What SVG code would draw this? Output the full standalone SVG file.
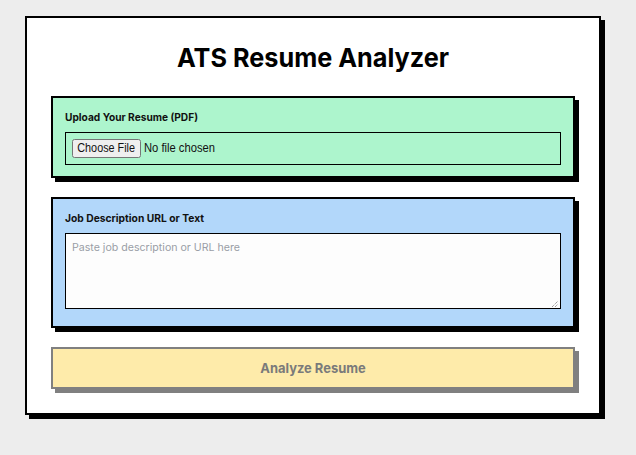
<svg xmlns="http://www.w3.org/2000/svg" width="636" height="455" viewBox="0 0 636 455">
<style>
.shadow{fill:#000}
.box{stroke:#000;stroke-width:2}
.lbl{font-family:Inter,"Liberation Sans",sans-serif;font-weight:700;font-size:10.5px;fill:#111}
.sys{font-family:"Liberation Sans",Arial,sans-serif;font-size:12px;fill:#111}
</style>
<rect x="0" y="0" width="636" height="455" fill="#ededed"/>
<g id="card">
<rect class="shadow" x="29" y="20" width="576" height="399"/>
<rect class="box" x="26" y="17" width="574" height="397" fill="#fff"/>
<text x="313" y="66.5" text-anchor="middle" font-family="Inter,'Liberation Sans',sans-serif" font-weight="700" font-size="26" fill="#000" textLength="272" lengthAdjust="spacingAndGlyphs">ATS Resume Analyzer</text>
</g>
<g id="upload">
<rect class="shadow" x="55" y="100" width="524" height="82"/>
<rect class="box" x="52" y="97" width="522" height="80" fill="#adf5cd"/>
<text class="lbl" x="65" y="121.3" textLength="133" lengthAdjust="spacingAndGlyphs">Upload Your Resume (PDF)</text>
<rect x="65.5" y="132.5" width="495" height="32" fill="none" stroke="#000" stroke-width="1"/>
<rect x="72.5" y="139.5" width="68" height="18" rx="2" fill="#efefef" stroke="#767676" stroke-width="1"/>
<text class="sys" x="77.3" y="152.3" textLength="57.7" lengthAdjust="spacingAndGlyphs">Choose File</text>
<text class="sys" x="144" y="152.3" textLength="71" lengthAdjust="spacingAndGlyphs">No file chosen</text>
</g>
<g id="job">
<rect class="shadow" x="55" y="201" width="524" height="131"/>
<rect class="box" x="52" y="198" width="522" height="129" fill="#b2d7fa"/>
<text class="lbl" x="65" y="221.7" textLength="139" lengthAdjust="spacingAndGlyphs">Job Description URL or Text</text>
<rect x="65.5" y="233.5" width="495" height="75" fill="#fdfdfd" stroke="#000" stroke-width="1"/>
<text x="72" y="250.7" font-family="Inter,'Liberation Sans',sans-serif" font-size="10.5" fill="#9a9ea6" textLength="168" lengthAdjust="spacingAndGlyphs">Paste job description or URL here</text>
<g stroke="#777" stroke-width="1" stroke-dasharray="1,1">
<line x1="552" y1="307" x2="558" y2="301"/>
<line x1="555" y1="307" x2="558" y2="304"/>
</g>
</g>
<g id="analyze">
<rect x="55" y="351" width="524" height="42" fill="#808080"/>
<rect x="52" y="348" width="522" height="40" fill="#feebaa" stroke="#808080" stroke-width="2"/>
<text x="313" y="372.7" text-anchor="middle" font-family="Inter,'Liberation Sans',sans-serif" font-weight="700" font-size="13.5" fill="#7a7a7a" textLength="105.5" lengthAdjust="spacingAndGlyphs">Analyze Resume</text>
</g>
<g id="connectors"/>
</svg>
